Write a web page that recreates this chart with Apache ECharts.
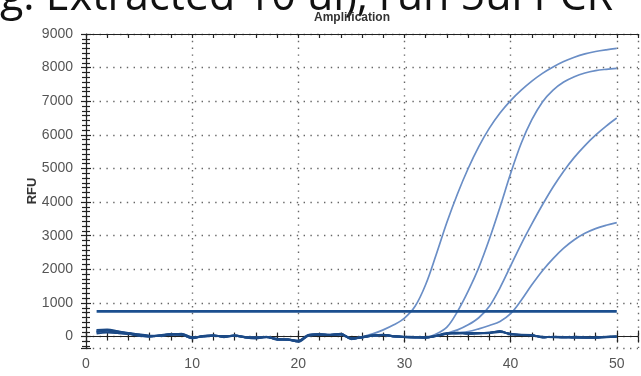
<!DOCTYPE html>
<html><head><meta charset="utf-8">
<script src="https://cdn.jsdelivr.net/npm/echarts@6/dist/echarts.min.js"></script>
<style>html,body{margin:0;padding:0;background:#fff;overflow:hidden}#c{width:641px;height:376px}</style>
</head><body><div id="c"></div>
<script>
const headingText = 'g: Extracted 10 ul), run 5ul PCR';
const chartTitle = 'Amplification';
const yAxisName = 'RFU';
const cycles = [1,2,3,4,5,6,7,8,9,10,11,12,13,14,15,16,17,18,19,20,21,22,23,24,25,26,27,28,29,30,31,32,33,34,35,36,37,38,39,40,41,42,43,44,45,46,47,48,49,50];
const pos1 = [170,180,140,100,50,20,40,70,70,-30,20,30,10,30,-10,-30,-10,-70,-80,-120,50,70,60,80,-50,-10,80,200,350,550,900,1550,2450,3400,4250,5000,5650,6200,6650,7020,7330,7600,7830,8020,8180,8310,8410,8480,8530,8570];
const pos2 = [140,160,130,90,40,10,30,60,60,-40,10,30,0,30,-20,-40,-10,-80,-90,-130,40,60,50,70,-60,-20,30,50,10,-10,-20,-20,80,280,750,1350,2050,2900,3850,4850,5750,6450,6980,7330,7570,7730,7840,7910,7950,7980];
const pos3 = [120,150,120,80,30,0,30,70,60,-50,0,20,-10,20,-30,-50,-20,-90,-100,-140,30,50,40,60,-70,-30,20,40,0,-20,-30,-30,30,100,200,350,560,900,1450,2100,2750,3350,3920,4450,4920,5330,5680,5990,6260,6500];
const pos4 = [200,190,150,110,60,20,20,60,80,-20,0,20,10,20,-10,-30,-20,-70,-100,-130,50,70,40,60,-50,-30,20,40,0,-20,-30,-20,20,90,120,150,230,330,450,680,1080,1540,1960,2320,2630,2880,3070,3210,3310,3390];
const negA = [150,170,130,90,40,10,30,70,60,-40,10,30,0,30,-20,-40,-10,-80,-90,-140,40,60,50,70,-60,-20,30,50,10,-10,-20,-30,20,90,100,90,100,120,150,70,50,40,-20,-10,-20,-20,-30,-30,-10,0];
const negB = [200,210,160,110,70,30,20,60,90,-10,0,20,20,20,-10,-20,-20,-60,-100,-120,60,80,40,60,-40,-30,20,40,0,-20,-30,-10,10,80,120,80,90,100,130,90,40,30,0,-20,-30,0,-20,-40,-20,-10];
const negC = [90,120,100,70,20,-10,40,80,60,-60,20,40,-20,40,-30,-60,0,-100,-80,-160,30,50,60,90,-80,-10,40,60,20,0,-10,-40,30,100,90,110,110,110,170,60,60,50,-30,0,-10,-40,-40,-20,0,10];
const negD = [130,190,150,100,50,20,30,50,50,-30,10,30,0,20,-20,-40,-10,-80,-90,-130,40,60,50,70,-60,-20,30,50,10,-10,-20,-30,20,90,100,90,100,110,140,80,50,40,-20,-10,-20,-20,-30,-30,-10,0];
const thresholdValue = 750;
const thresholdCycles = [1, 50];
const xTicks = [0,10,20,30,40,50];
const yTicks = [0,1000,2000,3000,4000,5000,6000,7000,8000,9000];

const pairs = arr => arr.map((v, i) => [cycles[i], v]);
const posColor = '#6a8ec6';
const negColor = '#1c4a86';
const dotted = {color: '#666', width: 1.4, type: [1.4, 5.4]};
const tickStyle = {color: '#222', width: 1.2};

const chart = echarts.init(document.getElementById('c'), null, {renderer: 'canvas'});
const X_MIN = 0, X_MAX = 52, Y_MIN = -340, Y_MAX = 9000;

const lineSeries = (name, data, color, width, z) => ({
  name, type: 'line', data: pairs(data), xAxisIndex: 0, yAxisIndex: 0,
  showSymbol: false, smooth: 0.35, lineStyle: {color, width}, z, silent: true
});

chart.setOption({
  animation: false,
  backgroundColor: '#fff',
  grid: {left: 86, right: -6, top: 34, bottom: 28, containLabel: false},
  graphic: [
    {type: 'text', x: 0, y: -24, z: 100,
     style: {text: headingText, font: '43px "Open Sans"', fill: '#111', textVerticalAlign: 'top'}},
    {type: 'text', x: 352, y: 12, z: 101,
     style: {text: chartTitle, font: 'bold 12px "Liberation Sans", Arial', fill: '#333', textAlign: 'center', textVerticalAlign: 'top'}}
  ],
  xAxis: [
    {type: 'value', position: 'bottom', min: X_MIN, max: X_MAX, interval: 10,
     axisLine: {show: true, lineStyle: {color: '#222', width: 1.2}},
     axisTick: {show: true, length: 6, lineStyle: tickStyle},
     minorTick: {show: true, splitNumber: 5, length: 4, lineStyle: tickStyle},
     axisLabel: {color: '#555', fontSize: 14, fontFamily: '"Liberation Sans", Arial', margin: 9,
       formatter: v => (xTicks.indexOf(v) >= 0 ? String(v) : '')},
     splitLine: {show: true, lineStyle: dotted}},
    {type: 'value', position: 'bottom', min: X_MIN, max: X_MAX, interval: 10,
     axisLine: {show: false},
     axisTick: {show: true, inside: true, length: 6, lineStyle: tickStyle},
     minorTick: {show: true, splitNumber: 5, length: 4, lineStyle: tickStyle},
     axisLabel: {show: false}, splitLine: {show: false}},
    {type: 'value', position: 'top', min: X_MIN, max: X_MAX, interval: 2,
     axisLine: {show: true, lineStyle: {color: '#222', width: 1.2}},
     axisTick: {show: true, inside: true, length: 4, lineStyle: tickStyle},
     axisLabel: {show: false}, splitLine: {show: false}}
  ],
  yAxis: [
    {type: 'value', position: 'left', min: Y_MIN, max: Y_MAX, minInterval: 1000, maxInterval: 1000, splitNumber: 9,
     name: yAxisName, nameLocation: 'middle', nameGap: 47, nameRotate: 90, nameMoveOverlap: false,
     nameTextStyle: {fontWeight: 'bold', fontSize: 13, color: '#333', fontFamily: '"Liberation Sans", Arial'},
     axisLine: {show: true, lineStyle: {color: '#222', width: 1.2}},
     axisTick: {show: true, length: 5, lineStyle: tickStyle},
     minorTick: {show: true, splitNumber: 7, length: 4, lineStyle: tickStyle},
     axisLabel: {color: '#555', fontSize: 14, fontFamily: '"Liberation Sans", Arial', margin: 13,
       formatter: v => (yTicks.indexOf(v) >= 0 ? String(v) : '')},
     splitLine: {show: true, lineStyle: dotted}},
    {type: 'value', position: 'left', min: Y_MIN, max: Y_MAX, minInterval: 1000, maxInterval: 1000, splitNumber: 9,
     axisLine: {show: false},
     axisTick: {show: true, inside: true, length: 5, lineStyle: tickStyle},
     minorTick: {show: true, splitNumber: 7, length: 4, lineStyle: tickStyle},
     axisLabel: {show: false}, splitLine: {show: false}}
  ],
  series: [
    lineSeries('Sample 1', pos1, posColor, 1.7, 2),
    lineSeries('Sample 2', pos2, posColor, 1.7, 2),
    lineSeries('Sample 3', pos3, posColor, 1.7, 2),
    lineSeries('Sample 4', pos4, posColor, 1.7, 2),
    lineSeries('Negative A', negA, negColor, 2, 3),
    lineSeries('Negative B', negB, negColor, 1.8, 3),
    lineSeries('Negative C', negC, negColor, 1.8, 3),
    lineSeries('Negative D', negD, negColor, 1.8, 3),
    {name: 'Threshold', type: 'line', xAxisIndex: 0, yAxisIndex: 0, showSymbol: false, silent: true, z: 4,
     data: thresholdCycles.map(c => [c, thresholdValue]),
     lineStyle: {color: '#1b4f8f', width: 2.8}}
  ]
});
</script></body></html>
